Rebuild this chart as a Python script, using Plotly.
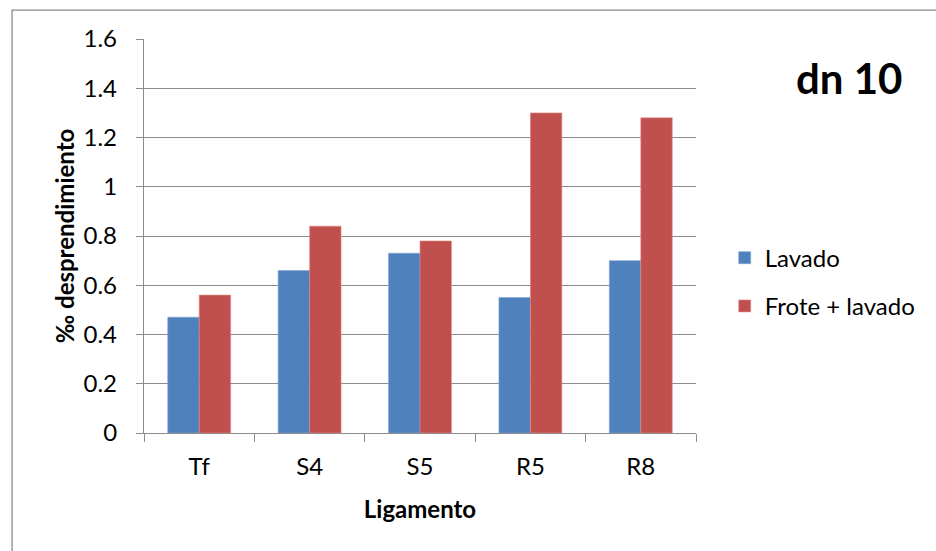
import plotly.graph_objects as go

# Ligament samples and detachment (per mille) for the two treatments
ligamentos = ["Tf", "S4", "S5", "R5", "R8"]
lavado = [0.47, 0.66, 0.73, 0.55, 0.70]
frote_lavado = [0.56, 0.84, 0.78, 1.30, 1.28]

y_ticks = [0, 0.2, 0.4, 0.6, 0.8, 1, 1.2, 1.4, 1.6]
y_tick_text = ["0", "0.2", "0.4", "0.6", "0.8", "1", "1.2", "1.4", "1.6"]

FONT = "Lato, Calibri, Carlito, sans-serif"
GRID = "#8c8c8c"

fig = go.Figure()
fig.add_trace(go.Bar(
    x=ligamentos, y=lavado, name="Lavado",
    marker=dict(color="#4F81BD", line=dict(color="#7fa3d3", width=0.6)),
    legendgroup="a",
))
fig.add_trace(go.Bar(
    x=ligamentos, y=frote_lavado, name="Frote + lavado",
    marker=dict(color="#C0504D", line=dict(color="#e08c8a", width=0.6)),
    legendgroup="b",
))

fig.update_layout(
    width=936, height=551,
    margin=dict(l=144, r=240, t=39, b=117.5, pad=0),
    paper_bgcolor="white", plot_bgcolor="white",
    barmode="group", bargap=0.43, bargroupgap=0,
    font=dict(family=FONT, size=24, color="#000000"),
    showlegend=True,
    legend=dict(
        x=1.052, xanchor="left", y=0.383, yanchor="middle",
        font=dict(family=FONT, size=24, color="#000000"),
        tracegroupgap=14, bgcolor="rgba(0,0,0,0)",
        itemwidth=30,
    ),
    xaxis=dict(
        type="category", showgrid=False,
        showline=True, linecolor=GRID, linewidth=1.3,
        ticks="outside", ticklen=8, tickcolor=GRID, tickwidth=1.3,
        tickson="boundaries", ticklabelstandoff=12,
        tickfont=dict(family=FONT, size=24),
        title=dict(text="<b>Ligamento</b>", font=dict(family=FONT, size=24), standoff=22),
        mirror=False, zeroline=False,
    ),
    yaxis=dict(
        range=[0, 1.6], tickvals=y_ticks, ticktext=y_tick_text,
        showgrid=True, gridcolor=GRID, gridwidth=1.3,
        showline=True, linecolor=GRID, linewidth=1.3,
        ticks="outside", ticklen=7, tickcolor=GRID, tickwidth=1.3,
        ticklabelstandoff=14,
        tickfont=dict(family=FONT, size=24),
        title=dict(text="<b>‰ desprendimiento</b>", font=dict(family=FONT, size=24), standoff=2),
        zeroline=False,
    ),
    annotations=[dict(
        text="<b>dn 10</b>", xref="paper", yref="paper",
        x=1.2775, y=0.90, xanchor="center", yanchor="middle",
        showarrow=False, font=dict(family=FONT, size=42, color="#000000"),
    )],
    shapes=[dict(
        type="rect", xref="paper", yref="paper",
        x0=-0.239, y0=-0.32, x1=1.46, y1=1.0735,
        line=dict(color="#8a8a8a", width=1.3), fillcolor="rgba(0,0,0,0)",
        layer="below",
    )],
)

fig.write_html("out.html")
